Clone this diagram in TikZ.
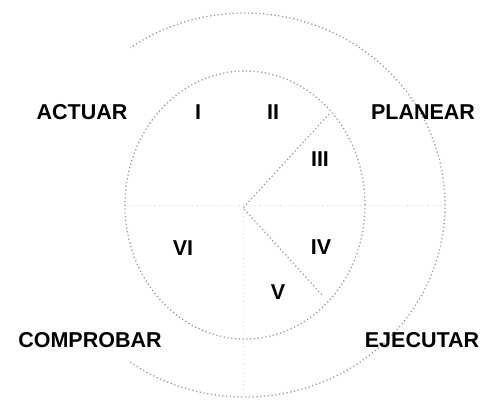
\documentclass[tikz,border=0pt]{standalone}
\usepackage{fontspec}
\setmainfont{Liberation Sans}

\begin{document}
\begin{tikzpicture}[x=1pt, y=1pt,
				every node/.style={font=\bfseries\fontsize{21.5}{24}\selectfont, inner sep=0pt},
				ring/.style={line width=1.3pt, black!40, dash pattern=on 1.2pt off 2.6pt},
				guide/.style={line width=1pt, black!12, dash pattern=on 1.2pt off 3pt}
				]
				\useasboundingbox (0,0) rectangle (484,399);
				\coordinate (o) at (245,194);
				\coordinate (c) at (243,191);
				\coordinate (d1) at (329,285);
				\coordinate (d2) at (323,103);
				\coordinate (gl) at (125,193);
				\coordinate (gr) at (447,193);
				\coordinate (gb) at (243,2);
				% faint axes
				\draw[guide] (gl) -- (gr);
				\draw[guide] (c) -- (gb);
				% rings
				\draw[ring] (o) ellipse [x radius=120, y radius=134];
				\draw[ring] (o) ++(-125:200 and 192) arc [start angle=-125, end angle=125, x radius=200, y radius=192];
				\draw[ring] (d1) -- (c) -- (d2);
				% labels
				\node (actuar) at (82,287) {ACTUAR};
				\node (planear) at (423,287) {PLANEAR};
				\node (comprobar) at (90,59) {COMPROBAR};
				\node (ejecutar) at (422,59) {EJECUTAR};
				\node (s1) at (198,287) {I};
				\node (s2) at (273,287) {II};
				\node (s3) at (320,240) {III};
				\node (s4) at (321,152) {IV};
				\node (s5) at (278,107) {V};
				\node (s6) at (183,151) {VI};
			\end{tikzpicture}
\end{document}
